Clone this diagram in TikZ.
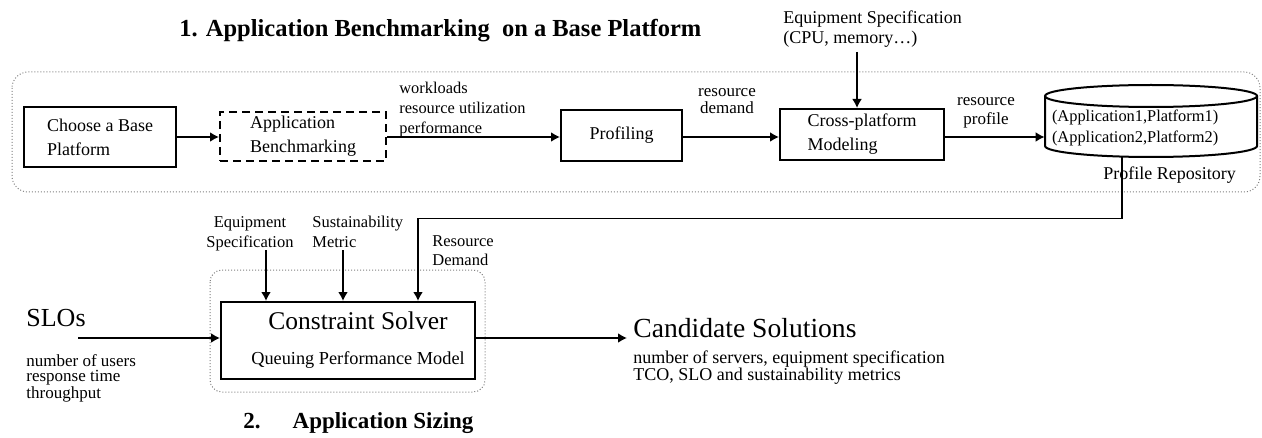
\documentclass[tikz,border=0pt]{standalone}
\usepackage{fontspec}
\setmainfont{Liberation Serif}
\usetikzlibrary{arrows.meta}
\tikzset{
  blk/.style={draw, line width=1pt, align=left, inner sep=0pt, font=\fontsize{9}{12}\selectfont},
  lbl/.style={inner sep=0pt, align=left},
  arr/.style={line width=0.9pt, -{Latex[length=4.5pt,width=5pt]}},
  frame/.style={draw=gray, densely dotted, line width=0.5pt, rounded corners=8pt},
}
\begin{document}
\begin{tikzpicture}[x=0.5pt,y=-0.5pt]
\useasboundingbox (0,0) rectangle (1262,438);
\draw[frame] (12,72) rectangle (1260,192);
\draw[frame, rounded corners=6pt] (210,270) rectangle (485,392);

\node[lbl, anchor=base west, font=\bfseries\fontsize{12.25}{14}\selectfont] (title1) at (179,37) {1. Application Benchmarking\ \ on a Base Platform};

\node[blk, minimum width=76pt, minimum height=30pt] (base) at (100,137) {Choose a Base\\Platform};
\node[blk, dash pattern=on 4pt off 2.5pt, minimum width=83pt, minimum height=24.5pt] (bench) at (303,136.5) {Application\\Benchmarking};
\node[blk, minimum width=60.5pt, minimum height=25.5pt] (prof) at (621.5,135.5) {Profiling};
\node[blk, minimum width=82pt, minimum height=25.5pt] (cross) at (862,134.5) {Cross-platform\\Modeling};
\node[lbl, text width=99pt, inner xsep=3.5pt, font=\fontsize{8.2}{10.5}\selectfont] (repo) at (1151,128) {(Application1,Platform1)\\(Application2,Platform2)};
\draw[line width=1pt] (1151,96) ellipse [x radius=53pt, y radius=5.5pt];
\draw[line width=1pt] (1045,96) -- (1045,146) arc[start angle=180, end angle=360, x radius=53pt, y radius=5.5pt] -- (1257,96);

\draw[arr] (base.east) -- (base.east -| bench.west);
\draw[arr] (bench.east |- base.east) -- (base.east -| prof.west);
\draw[arr] (prof.east |- base.east) -- (base.east -| cross.west);
\draw[arr] (cross.east |- base.east) -- (base.east -| repo.west);

\node[lbl, anchor=north west, font=\fontsize{8.2}{10}\selectfont] (wl) at (399,82) {workloads\\resource utilization\\performance};
\node[lbl, anchor=north, align=center, font=\fontsize{8.5}{8.5}\selectfont] (rd) at (727,88) {resource\\demand};
\node[lbl, anchor=north, align=center, font=\fontsize{8.5}{9.5}\selectfont] (rp) at (986,97) {resource\\profile};
\node[lbl, anchor=north west, font=\fontsize{9}{10.3}\selectfont] (spec) at (783,10) {Equipment Specification\\(CPU, memory…)};
\coordinate (specin) at (857,52);
\draw[arr] (specin) -- (specin |- cross.north);
\node[lbl, anchor=base west, font=\fontsize{9}{11}\selectfont] (repolbl) at (1103,180) {Profile Repository};

\node[blk, align=center, minimum width=127pt, minimum height=38.5pt, font=\fontsize{9.15}{17.5}\selectfont] (solver) at (348,340.5) {\hspace*{10pt}{\fontsize{12.75}{17.5}\selectfont Constraint Solver}\\\hspace*{10pt}Queuing Performance Model};

\node[lbl, anchor=base west, font=\fontsize{13}{15}\selectfont] (slos) at (26,326) {SLOs};
\node[lbl, anchor=north west, font=\fontsize{8.5}{7.25}\selectfont] (slosub) at (26,354.5) {number of users\\response time\\throughput};
\coordinate (sloin) at (78,338);
\draw[arr] (sloin) -- (sloin -| solver.west);
\node[lbl, inner sep=3pt, anchor=base west, font=\fontsize{13.8}{16}\selectfont] (cand) at (627,337) {Candidate Solutions};
\draw[arr] (solver.east |- sloin) -- (sloin -| cand.west);
\node[lbl, anchor=north west, font=\fontsize{9}{8.5}\selectfont] (candsub) at (633,350.7) {number of servers, equipment specification\\TCO, SLO and sustainability metrics};

\node[lbl, anchor=north, align=center, font=\fontsize{8.25}{10}\selectfont] (eqspec) at (250,216) {Equipment\\Specification};
\node[lbl, anchor=north west, font=\fontsize{8.25}{10}\selectfont] (sust) at (312,216) {Sustainability\\Metric};
\node[lbl, anchor=north west, font=\fontsize{8.25}{9.5}\selectfont] (resdem) at (432,235) {Resource\\Demand};
\coordinate (eqin) at (266,250);
\coordinate (susin) at (343,250);
\coordinate (repoout) at (1122,157);
\coordinate (dmdin) at (418,218.5);
\draw[arr] (eqin) -- (eqin |- solver.north);
\draw[arr] (susin) -- (susin |- solver.north);
\draw[arr] (repoout) |- (dmdin) -- (dmdin |- solver.north);

\node[lbl, anchor=base west, font=\bfseries\fontsize{11.5}{14}\selectfont] (title2) at (243,428) {2.\hspace{16pt}Application Sizing};
\end{tikzpicture}
\end{document}
